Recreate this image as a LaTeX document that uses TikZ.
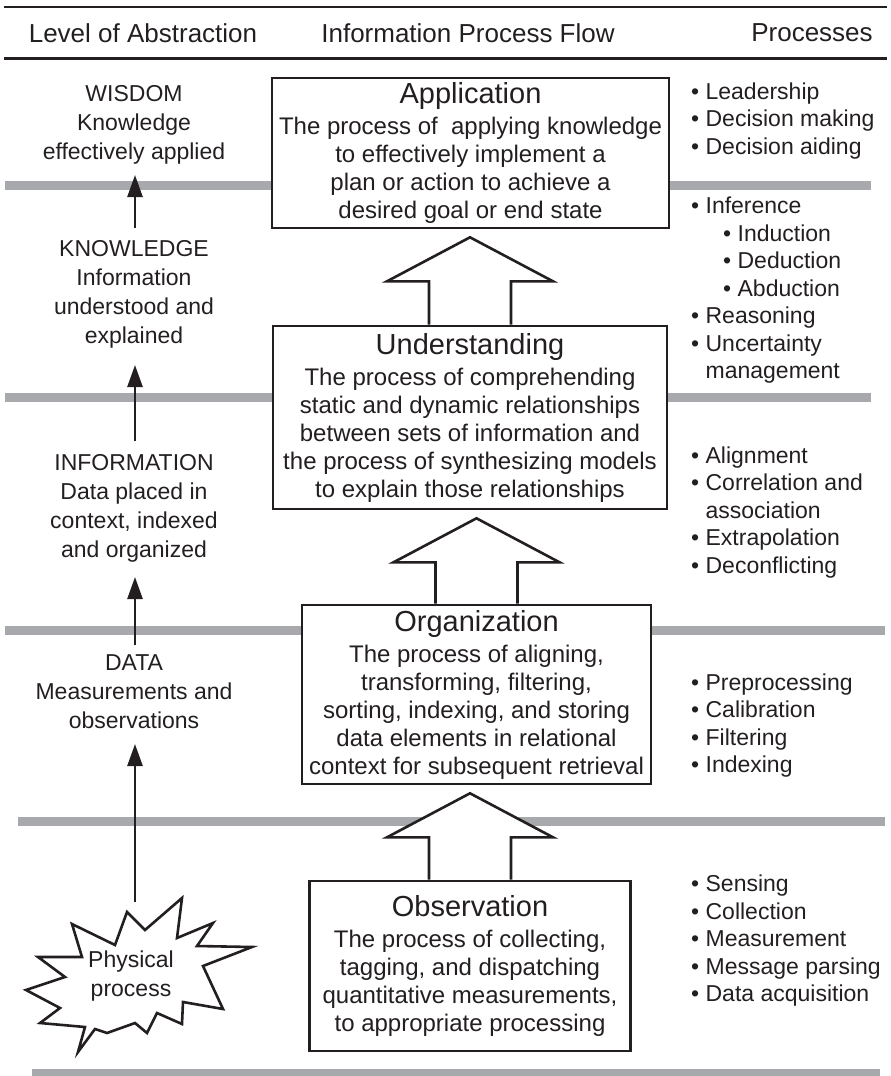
\documentclass[tikz,border=0pt]{standalone}
\usepackage{fontspec}
\setmainfont{Liberation Sans}
\usetikzlibrary{calc,arrows.meta}
\definecolor{ink}{RGB}{35,31,32}
\definecolor{band}{RGB}{167,169,172}

% Hollow block arrow rising from the top of node #1 to just under node #2
\newcommand{\liftarrow}[2]{%
  \draw[flowarrow]
    ($(#1.north)+(-41,0)$) --
    ($(#1.north |- #2.south)+(-41,52)$) --
    ($(#1.north |- #2.south)+(-83,52)$) --
    ($(#1.north |- #2.south)+(0,8)$) --
    ($(#1.north |- #2.south)+(83,52)$) --
    ($(#1.north |- #2.south)+(41,52)$) --
    ($(#1.north)+(41,0)$);}

\begin{document}
\begin{tikzpicture}[x=1pt,y=-1pt,
  blackrule/.style={draw=ink, line width=2.5pt},
  bandbar/.style={draw=band, line width=9pt},
  procbox/.style={draw=ink, fill=white, line width=2.6pt, align=center,
    inner sep=0pt, text=ink, font=\fontsize{24}{28}\selectfont},
  flowarrow/.style={draw=ink, fill=white, line width=2.6pt, line join=miter},
  levelarrow/.style={draw=ink, line width=2.6pt, -{Triangle[width=15pt,length=22pt]}},
  leveltext/.style={align=center, inner sep=0pt, text=ink,
    font=\fontsize{23}{29}\selectfont},
  proclist/.style={align=left, anchor=west, inner sep=0pt, text=ink,
    font=\fontsize{23}{27.5}\selectfont},
  headtext/.style={inner sep=0pt, text=ink, font=\fontsize{26}{30}\selectfont},
  burst/.style={draw=ink, fill=white, line width=2.6pt, line join=miter},
]
\useasboundingbox (0,0) rectangle (891,1076);

% column headings between two black rules
\draw[blackrule] (4,7) -- (887,7);
\draw[blackrule, line width=3pt] (4,58) -- (887,58);
\node[headtext] (hlevel) at (143,33) {Level of Abstraction};
\node[headtext] (hflow)  at (468,33) {Information Process Flow};
\node[headtext] (hproc)  at (812,33) {Processes};

% grey bands separating the levels
\draw[bandbar] (5,185) -- (871,185);
\draw[bandbar] (5,397) -- (871,397);
\draw[bandbar] (5,630) -- (885,630);
\draw[bandbar] (18,821) -- (885,821);
\draw[bandbar] (32,1073) -- (880,1073);

% process boxes
\node[procbox, minimum width=397pt, minimum height=150pt] (app) at (470.5,153)
  {{\fontsize{29}{30}\selectfont Application}\\[3pt]
   The process of\ \ applying knowledge\\to effectively implement a\\
   plan or action to achieve a\\desired goal or end state};
\node[procbox, minimum width=394pt, minimum height=183pt] (und) at (470,417.5)
  {{\fontsize{29}{30}\selectfont Understanding}\\[3pt]
   The process of comprehending\\static and dynamic relationships\\
   between sets of information and\\the process of synthesizing models\\
   to explain those relationships};
\node[procbox, minimum width=349pt, minimum height=179pt] (org) at (476.5,694.5)
  {{\fontsize{29}{30}\selectfont Organization}\\[3pt]
   The process of aligning,\\transforming, filtering,\\
   sorting, indexing, and storing\\data elements in relational\\
   context for subsequent retrieval};
\node[procbox, minimum width=321pt, minimum height=170pt] (obs) at (470,966)
  {{\fontsize{29}{30}\selectfont Observation}\\[3pt]
   The process of collecting,\\tagging, and dispatching\\
   quantitative measurements,\\to appropriate processing};

% hollow arrows between the stages
\liftarrow{und}{app}
\liftarrow{org}{und}
\liftarrow{obs}{org}

% level of abstraction labels
\node[leveltext] (wisdom) at (134,125) {WISDOM\\Knowledge\\effectively applied};
\node[leveltext] (knowledge) at (134,294) {KNOWLEDGE\\Information\\understood and\\explained};
\node[leveltext] (information) at (134,508) {INFORMATION\\Data placed in\\context, indexed\\and organized};
\node[leveltext] (data) at (134,691.5) {DATA\\Measurements and\\observations};

% physical process starburst
\draw[burst] (182,898) -- (177,938) -- (213,923) -- (197,946) -- (252,947) --
  (203,966) -- (223,1009) -- (183,1002) -- (182,1024) -- (157,1013) --
  (147,1033) -- (135,1023) -- (107,1033) -- (95,1029) -- (78,1052) --
  (85,1027) -- (40,1023) -- (60,1008) -- (26,990) -- (65,977) --
  (38,957) -- (82,957) -- (72,924) -- (115,945) -- (127,912) --
  (145,930) -- cycle;
\node[leveltext] (physical) at (131,976) {Physical\\process};

% upward arrows between the levels
\coordinate (a1s) at (135,228); \coordinate (a1e) at (135,175);
\coordinate (a2s) at (135,441); \coordinate (a2e) at (135,365);
\coordinate (a3s) at (135,645); \coordinate (a3e) at (135,577);
\coordinate (a4s) at (135,902); \coordinate (a4e) at (135,744);
\draw[levelarrow] (a1s) -- (a1e);
\draw[levelarrow] (a2s) -- (a2e);
\draw[levelarrow] (a3s) -- (a3e);
\draw[levelarrow] (a4s) -- (a4e);

% process lists
\node[proclist] (plapp) at (691,121)
  {• Leadership\\• Decision making\\• Decision aiding};
\node[proclist] (plund) at (691,290.5)
  {• Inference\\\hspace*{32pt}• Induction\\\hspace*{32pt}• Deduction\\
   \hspace*{32pt}• Abduction\\• Reasoning\\• Uncertainty\\\phantom{• }management};
\node[proclist] (plorg) at (691,512.5)
  {• Alignment\\• Correlation and\\\phantom{• }association\\• Extrapolation\\• Deconflicting};
\node[proclist] (plobs) at (691,725.5)
  {• Preprocessing\\• Calibration\\• Filtering\\• Indexing};
\node[proclist] (plphy) at (691,941)
  {• Sensing\\• Collection\\• Measurement\\• Message parsing\\• Data acquisition};
\end{tikzpicture}
\end{document}
